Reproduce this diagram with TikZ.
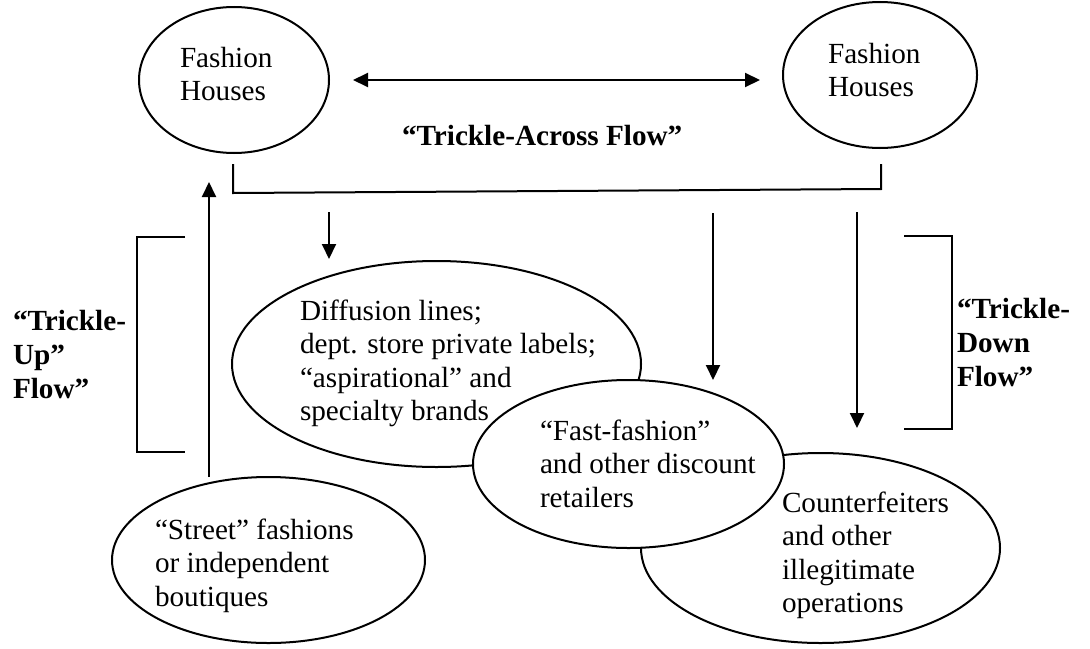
\documentclass[tikz,border=0pt]{standalone}
\usepackage{fontspec}
\setmainfont{Liberation Serif}
\usetikzlibrary{shapes.geometric,arrows.meta}

% left-aligned block of lines whose reference point is the first baseline
\newcommand\txtstack[1]{\begin{tabular}[t]{@{}l@{}}#1\end{tabular}}

\tikzset{
  oval/.style={ellipse, draw, line width=1pt, fill=white, inner sep=0pt, outer sep=0pt},
  txt/.style={inner sep=0pt, outer sep=0pt, anchor=base west,
    font=\fontsize{14.6}{16.75}\selectfont},
  btxt/.style={txt, font=\fontsize{14.6}{17}\selectfont\bfseries},
  flow/.style={line width=1pt, -{Triangle[length=7.5pt,width=7pt]}},
  bar/.style={line width=1pt},
}

\begin{document}
\begin{tikzpicture}[x=0.5pt,y=-0.5pt]
\useasboundingbox (0,0) rectangle (1090,648);

% fashion houses at the top
\node[oval, minimum width=95pt, minimum height=73pt] (fhL) at (234,80) {};
\node[txt] (fhLt) at (180,67) {\txtstack{Fashion\\Houses}};
\node[oval, minimum width=97pt, minimum height=73pt] (fhR) at (880,75) {};
\node[txt] (fhRt) at (828,63) {\txtstack{Fashion\\Houses}};

% trickle-across exchange
\coordinate (acL) at (353,80);
\coordinate (acR) at (760,80);
\draw[line width=1pt, {Triangle[length=7.5pt,width=7pt]}-{Triangle[length=7.5pt,width=7pt]}] (acL) -- (acR);
\node[btxt] (across) at (402,145) {“Trickle-Across Flow”};

% bar linking both houses
\coordinate (tkL) at (233,164);
\coordinate (tkLb) at (233,193);
\coordinate (tkRb) at (881,189);
\coordinate (tkR) at (881,164);
\draw[bar] (tkL) -- (tkLb) -- (tkRb) -- (tkR);

% lower tiers
\node[oval, minimum width=204.5pt, minimum height=103pt] (diff) at (436.5,364) {};
\node[txt] (difft) at (300,320) {\txtstack{Diffusion lines;\\dept. store private labels;\\“aspirational” and\\specialty brands}};

\node[oval, minimum width=179.5pt, minimum height=95pt] (cnt) at (820.5,548) {};
\node[txt] (cntt) at (782,512) {\txtstack{Counterfeiters\\and other\\illegitimate\\operations}};

\node[oval, minimum width=155.5pt, minimum height=84pt] (fast) at (628.5,464) {};
\node[txt] (fastt) at (540,440) {\txtstack{“Fast-fashion”\\and other discount\\retailers}};

\node[oval, minimum width=156.5pt, minimum height=83pt] (street) at (268.5,560) {};
\node[txt] (streett) at (155,539) {\txtstack{“Street” fashions\\or independent\\boutiques}};

% flow arrows
\coordinate (upS) at (209,477);
\coordinate (upE) at (209,182);
\draw[flow] (upS) -- (upE);
\coordinate (d1S) at (329,212);
\coordinate (d1E) at (329,259);
\draw[flow] (d1S) -- (d1E);
\coordinate (d2S) at (713,213);
\coordinate (d2E) at (713,380);
\draw[flow] (d2S) -- (d2E);
\coordinate (d3S) at (857,212);
\coordinate (d3E) at (857,428);
\draw[flow] (d3S) -- (d3E);

% side brackets and their labels
\coordinate (bl1) at (185,237);
\coordinate (bl2) at (137,237);
\coordinate (bl3) at (137,452);
\coordinate (bl4) at (185,452);
\draw[bar] (bl1) -- (bl2) -- (bl3) -- (bl4);
\node[btxt] (uplab) at (13,330) {\txtstack{“Trickle-\\Up”\\Flow”}};

\coordinate (br1) at (904,236);
\coordinate (br2) at (952,236);
\coordinate (br3) at (952,429);
\coordinate (br4) at (904,429);
\draw[bar] (br1) -- (br2) -- (br3) -- (br4);
\node[btxt] (downlab) at (957,318) {\txtstack{“Trickle-\\Down\\Flow”}};
\end{tikzpicture}
\end{document}
